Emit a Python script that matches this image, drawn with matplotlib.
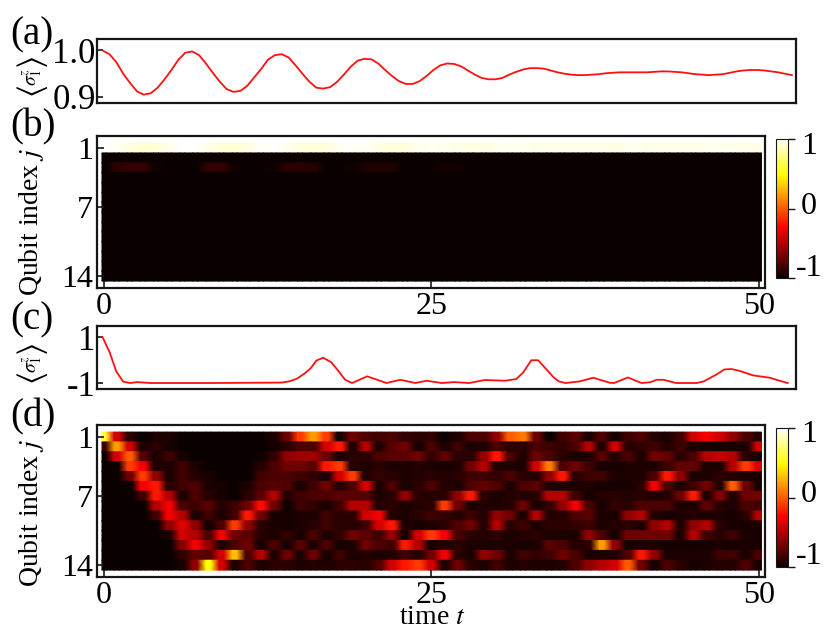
"""Qubit magnetisation traces and heat maps, four stacked panels."""

import matplotlib.pyplot as plt
import numpy as np

plt.rcParams["font.family"] = ["Liberation Serif", "DejaVu Serif"]
plt.rcParams["mathtext.fontset"] = "stix"

FIG_W, FIG_H = 830, 639
INK = "#161616"

# panel (a): <sigma_1^z>, read every half time unit
time_a = np.arange(0, 50.5, 0.5)
sigma_a = [
    1.000, 0.992, 0.975, 0.950, 0.930, 0.912, 0.905, 0.908, 0.920, 0.938,
    0.958, 0.980, 0.995, 0.998, 0.990, 0.972, 0.952, 0.933, 0.917, 0.911,
    0.913, 0.924, 0.942, 0.960, 0.980, 0.990, 0.992, 0.985, 0.968, 0.950,
    0.933, 0.920, 0.918, 0.921, 0.932, 0.948, 0.965, 0.978, 0.982, 0.981,
    0.972, 0.958, 0.945, 0.934, 0.928, 0.928, 0.934, 0.945, 0.958, 0.968,
    0.972, 0.971, 0.966, 0.957, 0.948, 0.941, 0.938, 0.938, 0.941, 0.948,
    0.954, 0.959, 0.962, 0.962, 0.961, 0.957, 0.953, 0.950, 0.948, 0.947,
    0.947, 0.948, 0.949, 0.951, 0.952, 0.953, 0.953, 0.953, 0.953, 0.953,
    0.954, 0.955, 0.955, 0.954, 0.953, 0.951, 0.949, 0.948, 0.947, 0.948,
    0.949, 0.952, 0.955, 0.957, 0.958, 0.958, 0.957, 0.955, 0.953, 0.950,
    0.947,
]

# panel (c): <sigma_1^z>, read at the visible line nodes
time_c = [
    0, 0.5, 1, 1.5, 2, 2.5, 3.5, 8, 13, 13.6, 14.1, 14.6, 15.1, 15.5, 16, 16.6,
    17.1, 17.6, 18.1, 19.2, 20.6, 21.6, 22.7, 23.5, 24.6, 25.5, 26.6, 27.7,
    29.2, 30, 30.5, 31.1, 31.6, 32.7, 33.1, 33.6, 34.6, 35.6, 36.8, 37.1, 38.1,
    39.1, 39.7, 40.2, 40.7, 41.6, 43.1, 43.6, 44.5, 45.1, 45.6, 46.2, 47.2,
    48.4, 49.1, 49.7,
]
sigma_c = [
    1.0, 0.36, -0.5, -0.94, -1.0, -0.96, -1.0, -1.0, -0.98, -0.92, -0.81,
    -0.61, -0.36, -0.03, 0.1, -0.1, -0.47, -0.86, -1.0, -0.71, -1.0, -0.86,
    -1.0, -0.9, -1.0, -0.96, -1.0, -0.87, -0.9, -0.83, -0.55, -0.01, -0.01,
    -0.74, -0.93, -1.0, -0.93, -0.77, -0.99, -1.0, -0.76, -1.0, -0.97, -0.86,
    -0.86, -1.0, -1.0, -0.93, -0.64, -0.41, -0.39, -0.47, -0.67, -0.77, -0.9,
    -1.0,
]

# panels (b) and (d): one column per time unit, 14 qubits
time_heat = np.arange(0, 51)
qubit_ticks = [1, 7, 14]

# panel (b), excitation of qubit 3 in tenths; other rows below qubit 1 stay dark
qubit3_b = [
    0, 0.5, 0.6, 0.6, 0.1, 0, 0, 0, 0.6, 0.6,
    0.1, 0, 0, 0.1, 0.5, 0.5, 0.4, 0, 0, 0.1,
    0.3, 0.3, 0.3, 0, 0, 0, 0.15, 0.15, 0, 0,
    0, 0, 0, 0, 0, 0, 0, 0, 0, 0,
    0, 0, 0, 0, 0, 0, 0, 0, 0, 0,
    0,
]

# panel (d), excitation of each qubit in tenths (0 black, 10 white)
levels_d = [
    [8, 3, 0.5, 0, 0.3, 0.3, 0, 0, 0, 0,
     0, 0, 0, 0.3, 1.5, 4.5, 6, 4.5, 0.2, 1.5,
     1, 0.8, 1, 0.6, 0.5, 0.6, 0, 0.3, 1, 1,
     2, 5, 5.5, 1.5, 0, 0.8, 1.2, 0.3, 1, 0.2,
     0.8, 1, 0.4, 0.3, 0.8, 3, 3.5, 3, 2, 1,
     0.4],
    [0.8, 6, 3, 0.3, 0.5, 0.2, 0, 0, 0, 0,
     0, 0, 0, 0.2, 0.5, 1, 1, 3, 4, 0.3,
     2.5, 0.3, 1.2, 1.5, 0.2, 1, 0.3, 0.8, 0.3, 0.3,
     1, 0.5, 0.5, 1, 0.8, 0.6, 1, 2.5, 0.3, 3,
     0.5, 0.6, 0.8, 0.4, 0.8, 0.3, 0.2, 0.2, 0.2, 0.3,
     3],
    [0, 3, 5, 1.2, 0.3, 0.8, 0.2, 0, 0, 0,
     0, 0, 0.1, 0.6, 2, 2.2, 2.2, 1.5, 0.3, 0.5,
     0.5, 1, 1.2, 1.2, 1.5, 0.6, 1.3, 0.5, 0.5, 2,
     4, 1, 0.3, 1.5, 1, 0.5, 0.2, 0.3, 1.2, 0.4,
     1, 0.3, 1.5, 1.3, 0.5, 1, 2.5, 2.8, 2.5, 0.5,
     0.2],
    [0, 0, 4.5, 3.5, 0.3, 0.3, 0.8, 0.3, 0, 0,
     0, 0, 0.4, 1, 1.5, 1.5, 1.2, 4, 4.5, 0.4,
     0.3, 0.5, 0.3, 0.3, 0.4, 0.3, 0.2, 0.3, 1.5, 2.5,
     0.4, 0.3, 0.3, 3, 5.5, 1, 1.5, 0.8, 0.2, 0.2,
     0.3, 0.3, 0.3, 0.8, 1.3, 1.3, 0.3, 0.3, 2.5, 4.5,
     3],
    [0, 0, 1.5, 4.5, 2, 0.3, 0.8, 0.4, 0.2, 0,
     0, 0, 0.8, 1, 1, 0.8, 0.6, 0.3, 3, 4.5,
     0.4, 0.6, 0.5, 0.3, 0.4, 0.5, 0.4, 0.5, 0.8, 0.8,
     0.6, 1, 0.5, 0.4, 2, 4, 0.5, 0.8, 0.8, 0.3,
     0.3, 0.3, 1, 4, 2, 0.3, 0.3, 0.5, 0.4, 0.3,
     0.2],
    [0, 0, 0, 3.5, 4, 0.5, 0.8, 1, 0.3, 0.2,
     0, 0.3, 1, 1.2, 1, 0.3, 0.8, 1.5, 0.5, 1,
     3, 0.3, 1, 0.3, 0.5, 1, 0.4, 0.3, 1, 1.3,
     1, 0.3, 1, 1.2, 0.4, 0.3, 0.3, 0.3, 0.2, 0.2,
     0.2, 0.5, 3.5, 1, 0.3, 0.8, 1.5, 0.4, 5, 1.5,
     0.2],
    [0, 0, 0, 0.8, 4, 2.5, 0.3, 1, 0.5, 0.2,
     0, 0.5, 1.2, 2.5, 0.4, 0.8, 1, 1, 1.2, 1.2,
     1.1, 0.3, 0.5, 2, 0.5, 0.4, 0.5, 2, 4, 0.5,
     0.3, 0.4, 0.4, 0.5, 2.5, 2.5, 0.8, 0.2, 0.4, 0.5,
     0.4, 0.5, 0.3, 0.4, 1.5, 4, 0.3, 1.8, 0.3, 1.5,
     1.5],
    [0, 0, 0, 0, 2.5, 3.5, 1, 0.8, 1.2, 0.4,
     0.8, 1.5, 3.8, 1.5, 0.1, 0.8, 0.6, 0.3, 0.8, 2.5,
     2.5, 0.4, 0.5, 0.3, 0.4, 0.5, 4.5, 1.5, 0.3, 0.4,
     0.3, 0.4, 1.5, 0.3, 0.6, 2, 3.5, 1, 0.2, 0.6,
     0.5, 1, 1, 1, 0.3, 0.3, 1.3, 0.5, 0.3, 1,
     0.8],
    [0, 0, 0, 0, 0.8, 3.5, 2.5, 0.3, 0.8, 0.3,
     0.8, 4, 1.5, 0.2, 0.2, 0.3, 0.3, 0.8, 0.5, 0.5,
     3, 3.5, 0.4, 0.3, 0.5, 0.8, 0.6, 0.4, 0.8, 0.4,
     2, 1.5, 0.2, 2.5, 0.4, 0.4, 1, 1.2, 0.3, 0.2,
     2, 2.5, 0.4, 0.2, 0.3, 0.4, 0.3, 0.3, 0.2, 0.5,
     2.5],
    [0, 0, 0, 0, 0, 2, 3.2, 2, 0.2, 1,
     4.5, 2, 0.5, 0.3, 0.2, 0.3, 0.5, 0.8, 0.5, 0.4,
     0.8, 3, 4, 0.3, 0.2, 0.3, 0.5, 1, 1.5, 0.4,
     2.5, 0.5, 0.8, 0.3, 0.5, 0.5, 0.6, 0.8, 0.3, 0.4,
     0.5, 0.3, 2, 2.5, 0.3, 2, 2.5, 0.5, 0.2, 0.2,
     0.3],
    [0, 0, 0, 0, 0, 0.3, 3, 2.5, 1, 3.5,
     1.5, 1.2, 0.5, 0.3, 0.6, 0.2, 1, 0.3, 0.6, 1.5,
     1.2, 0.8, 2, 0.2, 3, 4.5, 3.5, 1, 0.5, 0.4,
     0.5, 0.3, 0.4, 0.5, 0.3, 0.3, 0.3, 2, 1, 0.2,
     1.5, 1.5, 1.5, 1.5, 0.3, 2.5, 0.8, 0.5, 0.8, 0.3,
     0.2],
    [0, 0, 0, 0, 0, 0, 1.8, 3.5, 2, 0.3,
     1, 1.5, 0.2, 1, 0.2, 1.2, 0.3, 1, 0.2, 0.3,
     1.5, 1, 0.8, 4, 2.5, 0.2, 0.4, 0.5, 0.3, 0.3,
     0.3, 0.3, 0.2, 0.3, 1.2, 1, 0.4, 0.5, 6, 2,
     0.2, 0.3, 0.3, 0.2, 0.2, 0.2, 0.2, 0.3, 0.2, 0.2,
     0.2],
    [0, 0, 0, 0, 0, 0, 0.6, 1.3, 1.2, 3,
     6.5, 1, 2.5, 0.3, 1.5, 0.3, 1.5, 0.2, 0.8, 0.3,
     0.4, 0.3, 0.4, 0.8, 0.4, 1.5, 3.5, 0.5, 0.3, 2,
     1.5, 0.3, 0.8, 0.6, 0.8, 1.5, 1, 0.3, 0.3, 0.3,
     1, 4, 2, 0.3, 0.3, 0.3, 0.3, 0.8, 0.8, 0.3,
     1],
    [0, 0, 0, 0, 0, 0, 0.2, 2, 7.5, 3,
     0.3, 1, 0.3, 0.5, 0.5, 0.3, 0.4, 0.3, 0.5, 0.5,
     0.4, 1, 3, 4, 4.5, 3, 0.3, 1.5, 0.5, 0.3,
     0.8, 0.3, 0.4, 0.3, 0.3, 0.4, 1, 2, 2.5, 3,
     5, 1.5, 0.2, 1, 0.5, 0.2, 0.3, 0.4, 0.4, 1,
     0.2],
]


def px_axes(fig, left, top, right, bottom):
    """Axes placed by pixel edges, y counted from the top of the picture."""
    return fig.add_axes([
        left / FIG_W, 1 - bottom / FIG_H,
        (right - left) / FIG_W, (bottom - top) / FIG_H,
    ])


def px_text(fig, x, y, s, **kw):
    kw.setdefault("va", "center")
    kw.setdefault("ha", "center")
    return fig.text(x / FIG_W, 1 - y / FIG_H, s, **kw)


def style_frame(ax):
    for spine in ax.spines.values():
        spine.set_linewidth(1.6)
        spine.set_color(INK)


def sigma_label(fig, y):
    # brackets are much taller than the sigma, so they go in as separate texts
    px_text(fig, 32, y + 14, r"$\langle$", fontsize=24, rotation=90)
    px_text(fig, 32, y, r"$\sigma_1^z$", fontsize=14, rotation=90)
    px_text(fig, 32, y - 14, r"$\rangle$", fontsize=24, rotation=90)


def line_panel(ax, t, y, ylim, yticks, ylabels):
    ax.plot(t, y, color="#ff1010", lw=1.3)
    ax.set_xlim(-0.4, 50.3)
    ax.set_ylim(*ylim)
    ax.set_xticks([])
    ax.set_yticks(yticks, ylabels)
    ax.tick_params(axis="y", direction="in", length=4, width=1.2, pad=1,
                   labelsize=25, color=INK)
    style_frame(ax)


def heat_panel(ax, levels):
    # doubled edges: rows stay sharp, columns are short flats with long soft sides
    y_edges = np.repeat(np.arange(0.5, 15.5), 2)[1:-1]
    x_nodes = np.repeat(time_heat, 2) + np.tile([-0.18, 0.18], len(time_heat))
    x_nodes = np.clip(x_nodes, -0.12, 50.22)
    x_grid, y_grid = np.meshgrid(x_nodes, y_edges)
    values = np.repeat(np.repeat(np.asarray(levels), 2, axis=0), 2, axis=1) / 5 - 1
    mesh = ax.pcolormesh(x_grid, y_grid, values, shading="gouraud",
                         cmap="hot", vmin=-1, vmax=1)
    ax.set_xlim(-0.5, 50.45)
    ax.set_ylim(15.2, -0.22)
    ax.set_xticks([0, 25, 50], ["0", "25", "50"])
    ax.set_yticks(qubit_ticks, [str(q) for q in qubit_ticks])
    ax.tick_params(axis="both", direction="in", length=5, width=1.2, pad=3,
                   labelsize=23, color=INK)
    style_frame(ax)
    return mesh


def add_colorbar(fig, mesh, top, bottom):
    cax = px_axes(fig, 776, top, 788, bottom)
    bar = fig.colorbar(mesh, cax=cax)
    bar.set_ticks([-1, 0, 1], labels=[])
    bar.ax.tick_params(length=5, width=1.0, color=INK)
    bar.outline.set_linewidth(0.8)
    bar.outline.set_edgecolor(INK)
    # end labels sit inside the bar's span, not centred on their ticks
    px_text(fig, 801, top + 7, "1", fontsize=23, ha="left")
    px_text(fig, 801, top + 67, "0", fontsize=23, ha="left")
    px_text(fig, 796, bottom - 10, "-1", fontsize=23, ha="left")


def main():
    fig = plt.figure(figsize=(FIG_W / 100, FIG_H / 100), dpi=100)

    ax_a = px_axes(fig, 97, 39, 796, 103)
    line_panel(ax_a, time_a, sigma_a, (0.887, 1.0247), [0.9, 1.0], ["0.9", "1.0"])
    sigma_label(fig, 77)

    # qubit 1 follows trace (a); qubit 3 carries the faint echo
    levels_b = np.zeros((14, len(time_heat)))
    levels_b[0] = (np.asarray(sigma_a[::2]) + 1) * 5
    levels_b[2] = qubit3_b
    ax_b = px_axes(fig, 97, 136, 765, 288)
    mesh_b = heat_panel(ax_b, levels_b)
    add_colorbar(fig, mesh_b, 139, 278)
    px_text(fig, 31, 222, r"Qubit index $j$", fontsize=20, rotation=90)

    ax_c = px_axes(fig, 97, 326, 796, 389)
    line_panel(ax_c, time_c, sigma_c, (-1.26, 1.48), [-1, 1], ["-1", "1"])
    sigma_label(fig, 364)

    ax_d = px_axes(fig, 97, 425, 765, 577)
    mesh_d = heat_panel(ax_d, levels_d)
    add_colorbar(fig, mesh_d, 428, 567)
    px_text(fig, 31, 513, r"Qubit index $j$", fontsize=20, rotation=90)

    for label, y in zip(["(a)", "(b)", "(c)", "(d)"], [35, 127, 320, 417]):
        px_text(fig, 10, y, label, fontsize=28, ha="left")
    px_text(fig, 432, 618, r"time $t$", fontsize=20)

    fig.savefig("out.png", dpi=100)


if __name__ == "__main__":
    main()
